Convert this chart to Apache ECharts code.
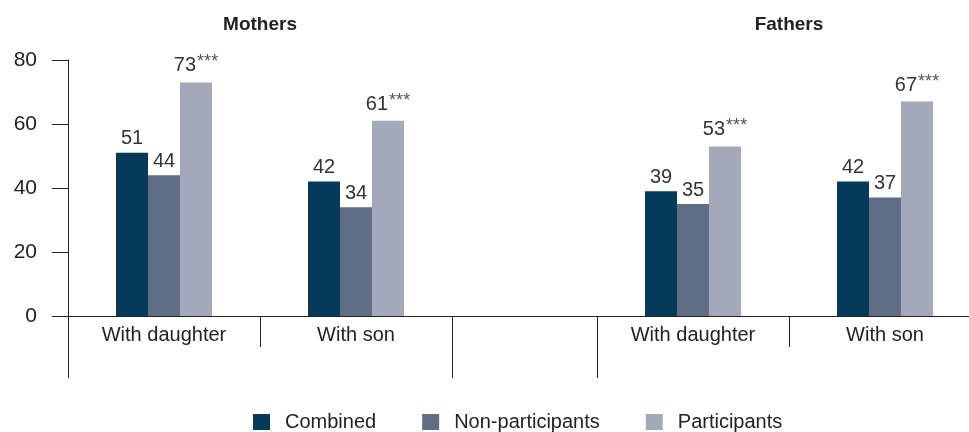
<!DOCTYPE html>
<html><head><meta charset="utf-8">
<script src="https://cdn.jsdelivr.net/npm/echarts@6/dist/echarts.min.js"></script>
<style>html,body{margin:0;padding:0;background:#fff}#c{width:969px;height:432px}</style>
</head><body><div id="c"></div>
<script>
const groupTitles = ['Mothers', 'Fathers'];
const categories = ['With daughter', 'With son'];
const seriesNames = ['Combined', 'Non-participants', 'Participants'];
const mothersCombined = [51, 42];
const mothersNonParticipants = [44, 34];
const mothersParticipants = [73, 61];
const fathersCombined = [39, 42];
const fathersNonParticipants = [35, 37];
const fathersParticipants = [53, 67];
const mothersSignificance = ['', '', '***'];
const fathersSignificance = ['', '', '***'];
const yMin = 0, yMax = 80, yInterval = 20;
const colors = ['#053a5a', '#5f6d85', '#a3a9b8'];

const FONT = 'Liberation Sans';
const textColor = '#222';
const lineColor = '#222';

function catAxis(gridIndex, data, tickLen, showLabel) {
  return {
    type: 'category', gridIndex: gridIndex, data: data, position: 'bottom',
    axisLine: { show: true, lineStyle: { color: lineColor, width: 1 } },
    axisTick: { show: true, length: tickLen, interval: 0, alignWithLabel: false, lineStyle: { color: lineColor, width: 1 } },
    axisLabel: { show: showLabel, interval: 0, margin: 9, fontSize: 20, color: textColor, fontFamily: FONT },
    splitLine: { show: false }
  };
}
function valAxis(gridIndex, show) {
  return {
    type: 'value', gridIndex: gridIndex, min: yMin, max: yMax, interval: yInterval, show: show,
    axisLine: { show: true, lineStyle: { color: lineColor, width: 1 } },
    axisTick: { show: true, length: 16, lineStyle: { color: lineColor, width: 1 } },
    axisLabel: { margin: 31, fontSize: 21, color: textColor, fontFamily: FONT },
    splitLine: { show: false }
  };
}
function barSeries(name, data, xi, yi, color, sig) {
  return {
    type: 'bar', name: name, data: data, xAxisIndex: xi, yAxisIndex: yi,
    barGap: '0%', barCategoryGap: '50%',
    itemStyle: { color: color },
    label: {
      show: true, position: 'top', distance: 4,
      formatter: function (p) { return '{v|' + p.value + '}' + (sig ? '{s|' + sig + '}' : ''); },
      rich: {
        v: { fontSize: 20, color: '#333', fontFamily: FONT },
        s: { fontSize: 18, color: '#555', fontFamily: FONT, padding: [0, 0, 7, 1] }
      }
    }
  };
}

const chart = echarts.init(document.getElementById('c'), null, { renderer: 'canvas' });
chart.setOption({
  animation: false,
  color: colors,
  title: [
    { text: groupTitles[0], left: 260, top: 15, padding: 0, textAlign: 'center', textStyle: { fontSize: 19, fontWeight: 'bold', color: textColor, fontFamily: FONT } },
    { text: groupTitles[1], left: 789, top: 15, padding: 0, textAlign: 'center', textStyle: { fontSize: 19, fontWeight: 'bold', color: textColor, fontFamily: FONT } }
  ],
  legend: {
    data: seriesNames, left: 253, top: 412, padding: 0, itemWidth: 17, itemHeight: 16, itemGap: 46,
    icon: 'rect', textStyle: { fontSize: 20, color: textColor, fontFamily: FONT, padding: [0, 0, 0, 10] }
  },
  grid: [
    { left: 68, top: 60, width: 384, height: 256, outerBoundsMode: 'none', containLabel: false },
    { left: 597, top: 60, width: 384, height: 256, outerBoundsMode: 'none', containLabel: false },
    { left: 452, top: 60, width: 145, height: 256, outerBoundsMode: 'none', containLabel: false }
  ],
  xAxis: [
    catAxis(0, categories, 31, true),
    catAxis(0, [''], 62, false),
    catAxis(1, categories, 31, true),
    catAxis(1, [''], 62, false),
    catAxis(2, [''], 62, false)
  ],
  yAxis: [valAxis(0, true), valAxis(1, false), valAxis(2, false)],
  series: [
    barSeries(seriesNames[0], mothersCombined, 0, 0, colors[0], mothersSignificance[0]),
    barSeries(seriesNames[1], mothersNonParticipants, 0, 0, colors[1], mothersSignificance[1]),
    barSeries(seriesNames[2], mothersParticipants, 0, 0, colors[2], mothersSignificance[2]),
    barSeries(seriesNames[0], fathersCombined, 2, 1, colors[0], fathersSignificance[0]),
    barSeries(seriesNames[1], fathersNonParticipants, 2, 1, colors[1], fathersSignificance[1]),
    barSeries(seriesNames[2], fathersParticipants, 2, 1, colors[2], fathersSignificance[2])
  ]
});
</script></body></html>
